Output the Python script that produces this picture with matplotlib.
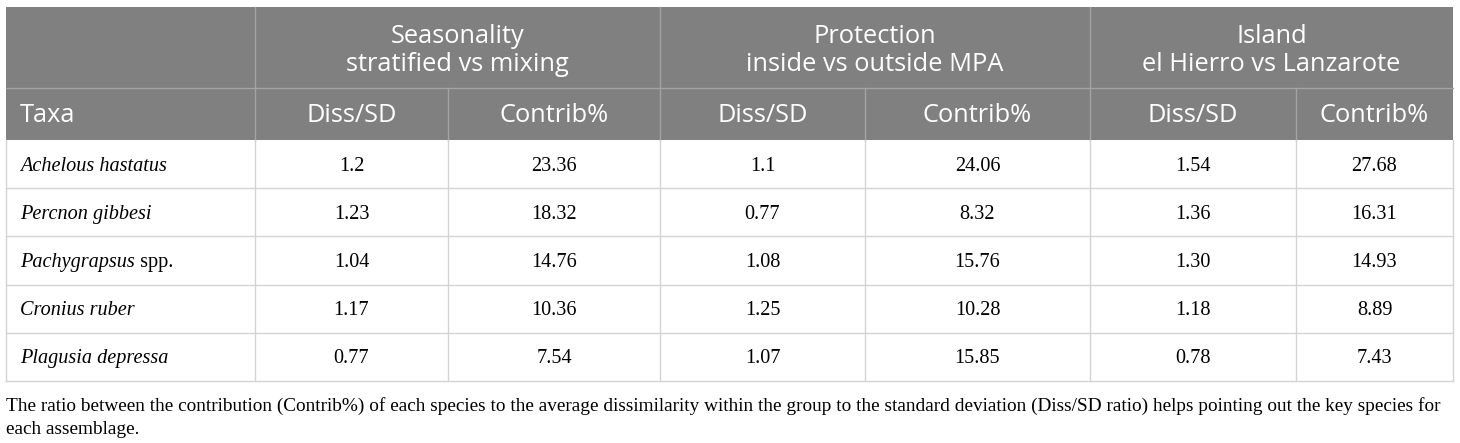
import matplotlib.pyplot as plt
from matplotlib.patches import Rectangle

# Datos de la tabla
grupos = [('Seasonality', 'stratified vs mixing'),
          ('Protection', 'inside vs outside MPA'),
          ('Island', 'el Hierro vs Lanzarote')]
subcols = ['Diss/SD', 'Contrib%']
taxa = [('Achelous hastatus', ''),
        ('Percnon gibbesi', ''),
        ('Pachygrapsus', ' spp.'),
        ('Cronius ruber', ''),
        ('Plagusia depressa', '')]
diss_season = ['1.2', '1.23', '1.04', '1.17', '0.77']
contrib_season = ['23.36', '18.32', '14.76', '10.36', '7.54']
diss_prot = ['1.1', '0.77', '1.08', '1.25', '1.07']
contrib_prot = ['24.06', '8.32', '15.76', '10.28', '15.85']
diss_island = ['1.54', '1.36', '1.30', '1.18', '0.78']
contrib_island = ['27.68', '16.31', '14.93', '8.89', '7.43']
nota = ['The ratio between the contribution (Contrib%) of each species to the average dissimilarity '
        'within the group to the standard deviation (Diss/SD ratio) helps pointing out the key species for',
        'each assemblage.']

columnas = [diss_season, contrib_season, diss_prot, contrib_prot, diss_island, contrib_island]

# Geometria en pixeles
W, H = 1460, 443
xs = [6, 255, 448, 660, 865, 1090, 1296, 1453]
y_top, y_h1, y_h2 = 7, 88, 140
row_h = (381 - y_h2) / len(taxa)

fig = plt.figure(figsize=(W / 100, H / 100), dpi=100)
ax = fig.add_axes([0, 0, 1, 1])
ax.set_xlim(0, W)
ax.set_ylim(H, 0)
ax.axis('off')

gris = '#808080'
linea_head = '#a3a3a3'
linea_data = '#d3d3d3'
sans = 'Open Sans'
serif = 'Liberation Serif'
fs_head = 18.3
fs_data = 14.6

# Fondo de cabecera
ax.add_patch(Rectangle((xs[0], y_top), xs[-1] - xs[0], y_h2 - y_top, color=gris, lw=0))
ax.plot([xs[0], xs[-1]], [y_h1, y_h1], color=linea_head, lw=1)
for x in [xs[1], xs[3], xs[5]]:
    ax.plot([x, x], [y_top, y_h2], color=linea_head, lw=1)
for x in [xs[2], xs[4], xs[6]]:
    ax.plot([x, x], [y_h1, y_h2], color=linea_head, lw=1)

for i, (l1, l2) in enumerate(grupos):
    cx = (xs[1 + 2 * i] + xs[3 + 2 * i]) / 2
    ax.text(cx, 36, l1, ha='center', va='center', color='white', fontsize=fs_head, family=sans)
    ax.text(cx, 64, l2, ha='center', va='center', color='white', fontsize=fs_head, family=sans)

yh = 115
ax.text(xs[0] + 14, yh, 'Taxa', ha='left', va='center', color='white', fontsize=fs_head, family=sans)
for j in range(6):
    cx = (xs[1 + j] + xs[2 + j]) / 2
    ax.text(cx, yh, subcols[j % 2], ha='center', va='center', color='white',
            fontsize=fs_head, family=sans)

# Filas de datos
y_bot = y_h2 + row_h * len(taxa)
for k in range(1, len(taxa) + 1):
    y = y_h2 + row_h * k
    ax.plot([xs[0], xs[-1]], [y, y], color=linea_data, lw=1)
for x in xs:
    ax.plot([x, x], [y_h2, y_bot], color=linea_data, lw=1)

for r, (nombre, extra) in enumerate(taxa):
    cy = y_h2 + row_h * (r + 0.5) + 2
    t = ax.text(xs[0] + 14, cy, nombre, ha='left', va='center', fontsize=fs_data,
                family=serif, style='italic')
    if extra:
        fig.canvas.draw()
        bb = t.get_window_extent()
        x_end = ax.transData.inverted().transform((bb.x1, bb.y0))[0]
        ax.text(x_end, cy, extra, ha='left', va='center', fontsize=fs_data, family=serif)
    for j, col in enumerate(columnas):
        cx = (xs[1 + j] + xs[2 + j]) / 2
        ax.text(cx, cy, col[r], ha='center', va='center', fontsize=fs_data, family=serif)

ax.text(xs[0], 406, nota[0], ha='left', va='center', fontsize=13.9, family=serif)
ax.text(xs[0], 429, nota[1], ha='left', va='center', fontsize=13.9, family=serif)

fig.savefig('out.png', dpi=100)
